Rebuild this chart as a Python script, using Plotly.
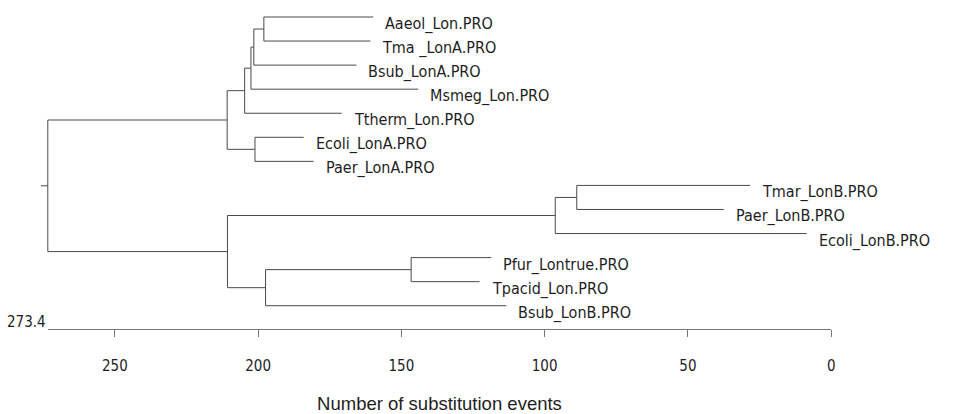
import plotly.graph_objects as go

# ---------------- data ----------------
leaf_names = ["Aaeol_Lon.PRO", "Tma _LonA.PRO", "Bsub_LonA.PRO", "Msmeg_Lon.PRO",
              "Ttherm_Lon.PRO", "Ecoli_LonA.PRO", "Paer_LonA.PRO", "Tmar_LonB.PRO",
              "Paer_LonB.PRO", "Ecoli_LonB.PRO", "Pfur_Lontrue.PRO", "Tpacid_Lon.PRO",
              "Bsub_LonB.PRO"]
leaf_heights = [159.8, 160.8, 165.7, 144.1, 170.8, 184.1, 180.6,
                28.3, 37.5, 8.6, 118.6, 122.7, 113.4]
# internal nodes (ids continue after the 13 leaves: 13, 14, ...)
node_children = [(0, 1), (13, 2), (14, 3), (15, 4), (5, 6), (16, 17),
                 (7, 8), (19, 9), (10, 11), (21, 12), (20, 22), (18, 23)]
node_heights = [198.0, 201.5, 202.5, 204.7, 201.1, 210.8,
                88.8, 96.3, 146.6, 197.4, 210.7, 273.4]
root_stub = 2.4
tick_values = [250, 200, 150, 100, 50, 0]
axis_max = 273.4
axis_title = "Number of substitution events"

# ---------------- geometry from the tree ----------------
n_leaf = len(leaf_names)
H = list(leaf_heights) + list(node_heights)
Y = [float(i) for i in range(n_leaf)]
for a, b in node_children:
    Y.append((Y[a] + Y[b]) / 2.0)

xs, ys = [], []
for k, (a, b) in enumerate(node_children):
    nid = n_leaf + k
    h = H[nid]
    xs += [h, h, None]; ys += [Y[a], Y[b], None]
    for c in (a, b):
        xs += [h, H[c], None]; ys += [Y[c], Y[c], None]
root = n_leaf + len(node_children) - 1
xs += [H[root], H[root] + root_stub, None]; ys += [Y[root], Y[root], None]

# ---------------- layout scales ----------------
W, HGT = 954, 414
px0, px1 = 48.0, 834.7          # pixel position of axis_max and 0
ppu = (px1 - px0) / axis_max
xr = [axis_max + px0 / ppu, -(W - px1) / ppu]
top_px, step_px = 17.0, 24.06
yr = [(HGT - top_px) / step_px, -top_px / step_px]
axis_pos = 1 - 329.0 / HGT

narrow = "DejaVu Sans Condensed, Liberation Sans Narrow, Arial Narrow, sans-serif"
line_col = "#4a4a4a"
txt_col = "#1e1e1e"

fig = go.Figure()
fig.add_trace(go.Scatter(x=xs, y=ys, mode="lines", xaxis="x", yaxis="y",
                         line=dict(color=line_col, width=1), hoverinfo="skip",
                         showlegend=False))
fig.add_trace(go.Scatter(x=[axis_max, 0], y=[yr[0], yr[0]], mode="markers",
                         xaxis="x2", yaxis="y", marker=dict(opacity=0),
                         hoverinfo="skip", showlegend=False))

annotations = []
for i, name in enumerate(leaf_names):
    annotations.append(dict(x=leaf_heights[i], y=Y[i], xref="x", yref="y",
                            text=name, showarrow=False, xanchor="left",
                            yanchor="middle", xshift=10, yshift=-7,
                            font=dict(family=narrow, size=16, color=txt_col)))
annotations.append(dict(x=axis_max, y=axis_pos, xref="x2", yref="paper",
                        text=str(axis_max), showarrow=False, xanchor="right",
                        yanchor="bottom", yshift=-4,
                        font=dict(family=narrow, size=15, color=txt_col)))

fig.update_layout(
    width=W, height=HGT, margin=dict(l=0, r=0, t=0, b=0),
    paper_bgcolor="white", plot_bgcolor="rgba(0,0,0,0)",
    xaxis=dict(domain=[0, 1], range=xr, visible=False),
    xaxis2=dict(domain=[px0 / W, px1 / W], range=[axis_max, 0], anchor="free",
                position=axis_pos, showline=True, linecolor="#777777", linewidth=1,
                ticks="outside", ticklen=7, tickcolor="#777777", tickwidth=1,
                tickvals=tick_values, showgrid=False, zeroline=False,
                ticklabelstandoff=16,
                tickfont=dict(family=narrow, size=15, color=txt_col),
                title=dict(text=axis_title, standoff=23,
                           font=dict(family="Liberation Sans, Arial, sans-serif",
                                     size=18.5, color=txt_col))),
    yaxis=dict(domain=[0, 1], range=yr, visible=False),
    annotations=annotations,
)
fig.write_html("out.html", config={"displayModeBar": False},
               post_script="document.body.style.margin='0';")
